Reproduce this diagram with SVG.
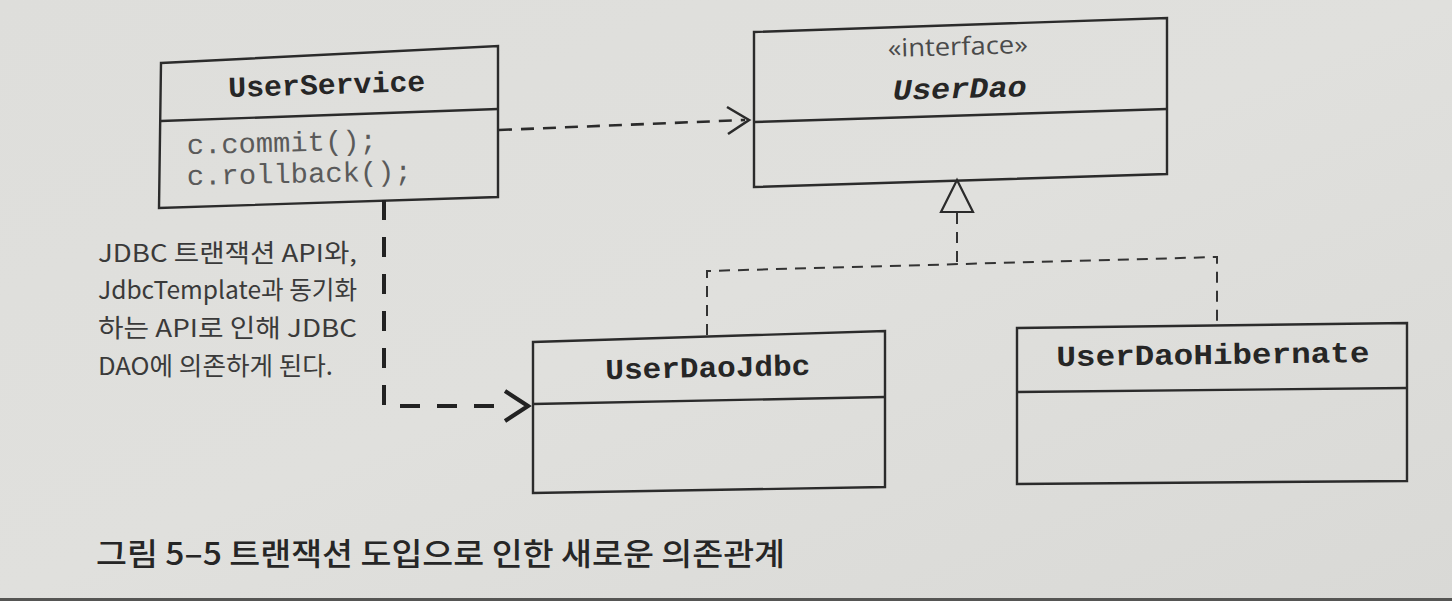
<svg xmlns="http://www.w3.org/2000/svg" width="1452" height="601" viewBox="0 0 1452 601">
  <defs>
    <linearGradient id="bg" x1="0" y1="0" x2="1" y2="1">
      <stop offset="0" stop-color="#dededb"/>
      <stop offset="0.5" stop-color="#e0e0dd"/>
      <stop offset="1" stop-color="#d9d9d6"/>
    </linearGradient>
    <style>
      .box { fill: none; stroke: #2b2b2b; stroke-width: 2.4; stroke-linejoin: miter; }
      .div { fill: none; stroke: #2b2b2b; stroke-width: 2.4; }
      .cls { font-family: "Liberation Mono", "DejaVu Sans Mono", monospace; font-size: 29px; fill: #262626; }
      .clsb { font-weight: bold; }
      .code { font-family: "Liberation Mono", "DejaVu Sans Mono", monospace; font-size: 28px; fill: #5a5a5a; }
      .stereo { font-family: "Open Sans", "Noto Sans", sans-serif; font-size: 25px; fill: #4a4a4a; }
      .note { font-family: "Noto Sans CJK KR", "Noto Sans", sans-serif; font-size: 24.5px; fill: #3a3a3a; }
      .cap { font-family: "Noto Sans CJK KR", "Noto Sans", sans-serif; font-size: 31px; fill: #262626; font-weight: 500; }
      .dep { fill: none; stroke: #2b2b2b; stroke-width: 2.6; stroke-dasharray: 13 9; }
      .real { fill: none; stroke: #333; stroke-width: 2; stroke-dasharray: 11 8; }
      .thick { fill: none; stroke: #222; stroke-width: 4; stroke-dasharray: 20 17; }
      .head { fill: none; stroke: #2b2b2b; stroke-width: 2.6; stroke-linejoin: miter; }
      .headb { fill: none; stroke: #222; stroke-width: 4.2; stroke-linejoin: miter; }
    </style>
  </defs>

  <rect x="0" y="0" width="1452" height="601" fill="url(#bg)"/>
  <rect x="0" y="598" width="1452" height="3" fill="#555553"/>

  <g id="UserService">
    <path class="box" d="M161,63 L498,46 L498,197 L159,208 Z"/>
    <path class="div" d="M161,121 L498,109"/>
    <text class="cls clsb" x="327" y="94" text-anchor="middle" textLength="197" lengthAdjust="spacingAndGlyphs" transform="rotate(-1.8 327 94)">UserService</text>
    <text class="code" x="187" y="154" textLength="190" lengthAdjust="spacingAndGlyphs" transform="rotate(-1.4 187 154)">c.commit();</text>
    <text class="code" x="187" y="185" textLength="225" lengthAdjust="spacingAndGlyphs" transform="rotate(-1.2 187 185)">c.rollback();</text>
  </g>

  <g id="UserDao">
    <path class="box" d="M754,32 L1167,18 L1167,174 L754,187 Z"/>
    <path class="div" d="M754,122 L1167,109"/>
    <text class="stereo" x="958" y="55" text-anchor="middle" textLength="140" lengthAdjust="spacingAndGlyphs" transform="rotate(-1.6 958 55)">«interface»</text>
    <text class="cls clsb" x="960" y="98" text-anchor="middle" font-style="italic" textLength="134" lengthAdjust="spacingAndGlyphs" transform="rotate(-1.6 960 98)">UserDao</text>
  </g>

  <g id="UserDaoJdbc">
    <path class="box" d="M533,342 L885,331 L885,487 L533,493 Z"/>
    <path class="div" d="M533,404 L885,397"/>
    <text class="cls" x="708" y="377" text-anchor="middle" font-weight="600" textLength="205" lengthAdjust="spacingAndGlyphs" transform="rotate(-1.2 708 377)">UserDaoJdbc</text>
  </g>

  <g id="UserDaoHibernate">
    <path class="box" d="M1017,328 L1407,323 L1407,481 L1017,484 Z"/>
    <path class="div" d="M1017,392 L1407,388"/>
    <text class="cls" x="1213" y="364" text-anchor="middle" font-weight="600" textLength="313" lengthAdjust="spacingAndGlyphs" transform="rotate(-0.7 1213 364)">UserDaoHibernate</text>
  </g>

  <g id="connectors">
    <path class="dep" d="M499,130 L745,120"/>
    <path class="head" d="M727,107 L749,120 L728,134"/>
    <path class="real" d="M707,335 L707,271 L1217,257 L1217,323"/>
    <path class="real" d="M957,262 L957,213"/>
    <path class="head" d="M957,180 L941,212 L973,212 Z" style="stroke-width:2.2"/>
    <path class="thick" d="M384,200 L384,406 L495,406"/>
    <path class="headb" d="M505,391 L528,406 L505,421"/>
  </g>

  <g id="note">
    <text class="note" x="98" y="262" textLength="259" lengthAdjust="spacingAndGlyphs">JDBC 트랜잭션 API와,</text>
    <text class="note" x="98" y="299" textLength="259" lengthAdjust="spacingAndGlyphs">JdbcTemplate과 동기화</text>
    <text class="note" x="98" y="337" textLength="259" lengthAdjust="spacingAndGlyphs">하는 API로 인해 JDBC</text>
    <text class="note" x="98" y="375" textLength="235" lengthAdjust="spacingAndGlyphs">DAO에 의존하게 된다.</text>
  </g>

  <text class="cap" x="96" y="565" textLength="689" lengthAdjust="spacingAndGlyphs">그림 5–5 트랜잭션 도입으로 인한 새로운 의존관계</text>
</svg>
